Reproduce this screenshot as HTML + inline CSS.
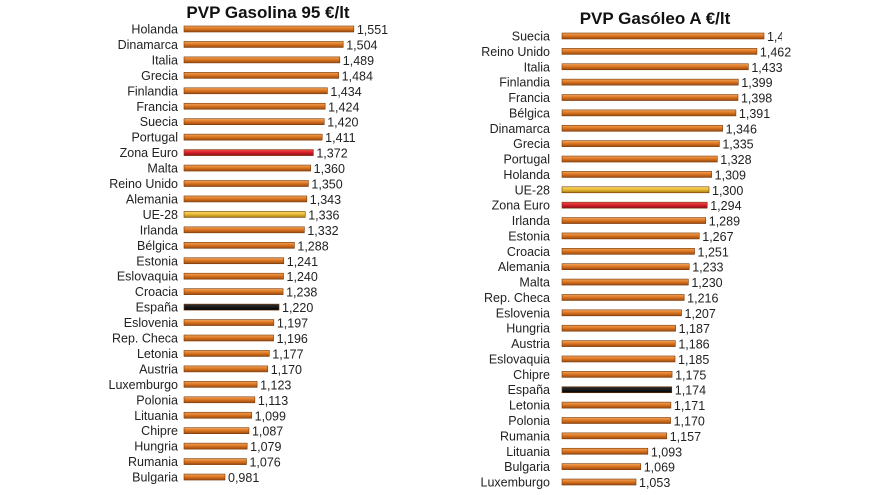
<!DOCTYPE html>
<html><head><meta charset="utf-8"><style>
html,body{margin:0;padding:0;background:#fff;width:888px;height:495px;overflow:hidden}
svg text{font-family:"Liberation Sans",Arial,sans-serif}
</style></head><body>
<svg id="s" width="888" height="495" xmlns="http://www.w3.org/2000/svg">
<defs>
<linearGradient id="o" x1="0" y1="0" x2="0" y2="1"><stop offset="0" stop-color="#f4a55a"/><stop offset="0.5" stop-color="#d9731f"/><stop offset="1" stop-color="#9a4a10"/></linearGradient>
<linearGradient id="r" x1="0" y1="0" x2="0" y2="1"><stop offset="0" stop-color="#f05050"/><stop offset="0.5" stop-color="#d41f2a"/><stop offset="1" stop-color="#8a1018"/></linearGradient>
<linearGradient id="y" x1="0" y1="0" x2="0" y2="1"><stop offset="0" stop-color="#f8dc70"/><stop offset="0.5" stop-color="#e8b830"/><stop offset="1" stop-color="#a07a10"/></linearGradient>
<linearGradient id="k" x1="0" y1="0" x2="0" y2="1"><stop offset="0" stop-color="#333"/><stop offset="1" stop-color="#000"/></linearGradient>
</defs>
<text x="268" y="18" font-size="17" font-weight="bold" text-anchor="middle" fill="#111">PVP Gasolina 95 €/lt</text>
<text x="655" y="24" font-size="17" font-weight="bold" text-anchor="middle" fill="#111">PVP Gasóleo A €/lt</text>
<g id="g"></g>
<rect x="782" y="28" width="20" height="16" fill="#fff"/>
</svg>
<script>
var L=[["Holanda",1.551],["Dinamarca",1.504],["Italia",1.489],["Grecia",1.484],["Finlandia",1.434],["Francia",1.424],["Suecia",1.420],["Portugal",1.411],["Zona Euro",1.372],["Malta",1.360],["Reino Unido",1.350],["Alemania",1.343],["UE-28",1.336],["Irlanda",1.332],["Bélgica",1.288],["Estonia",1.241],["Eslovaquia",1.240],["Croacia",1.238],["España",1.220],["Eslovenia",1.197],["Rep. Checa",1.196],["Letonia",1.177],["Austria",1.170],["Luxemburgo",1.123],["Polonia",1.113],["Lituania",1.099],["Chipre",1.087],["Hungria",1.079],["Rumania",1.076],["Bulgaria",0.981]];
var R=[["Suecia",1.486],["Reino Unido",1.462],["Italia",1.433],["Finlandia",1.399],["Francia",1.398],["Bélgica",1.391],["Dinamarca",1.346],["Grecia",1.335],["Portugal",1.328],["Holanda",1.309],["UE-28",1.300],["Zona Euro",1.294],["Irlanda",1.289],["Estonia",1.267],["Croacia",1.251],["Alemania",1.233],["Malta",1.230],["Rep. Checa",1.216],["Eslovenia",1.207],["Hungria",1.187],["Austria",1.186],["Eslovaquia",1.185],["Chipre",1.175],["España",1.174],["Letonia",1.171],["Polonia",1.170],["Rumania",1.157],["Lituania",1.093],["Bulgaria",1.069],["Luxemburgo",1.053]];
var h="";
function fill(n){return n=="Zona Euro"?"url(#r)":n=="UE-28"?"url(#y)":n=="España"?"url(#k)":"url(#o)";}
function draw(D,x0,lx,y0,dy,vref,xref,sc){
 D.forEach(function(d,i){
  var y=y0+i*dy, xe=xref+(d[1]-vref)*sc;
  h+='<text x="'+lx+'" y="'+(y+4.5)+'" font-size="12.5" text-anchor="end" fill="#222">'+d[0]+'</text>';
  h+='<rect x="'+x0+'" y="'+(y-3)+'" width="'+(xe-x0)+'" height="6" fill="'+fill(d[0])+'" stroke="#7a3a08" stroke-width="0.6"/>';
  h+='<text x="'+(xe+3)+'" y="'+(y+5)+'" font-size="12.5" fill="#222">'+d[1].toFixed(3).replace(".",",")+'</text>';
 });
}
draw(L,184,178,29,15.45,0.981,225,226);
draw(R,562,550,36,15.38,1.053,636,295.6);
document.getElementById("g").innerHTML=h;
</script>
</body></html>
